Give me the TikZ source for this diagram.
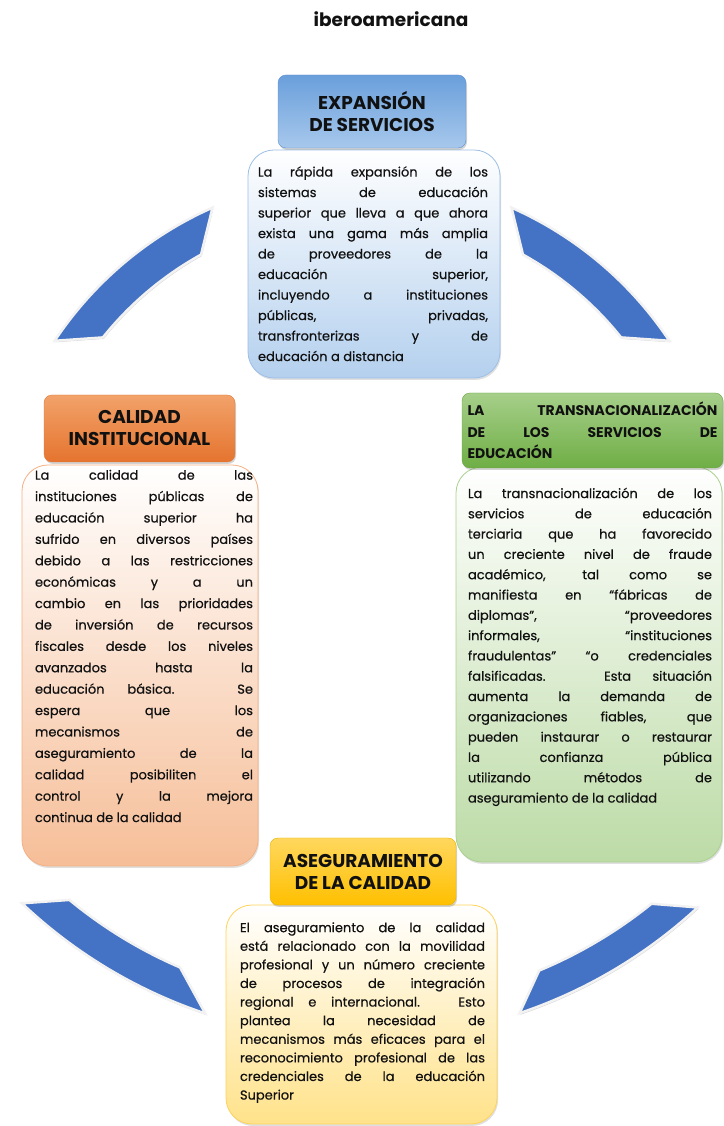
\documentclass[tikz,border=0pt]{standalone}
\usepackage{fontspec}
\setmainfont{Poppins}
\newfontfamily\bodyfont{Poppins}[FakeBold=0.5]
\usetikzlibrary{shadows}
\definecolor{arcblue}{HTML}{4472C4}
\definecolor{bluetop}{HTML}{6A9FDB}
\definecolor{bluebot}{HTML}{A7C8EC}
\definecolor{blueedge}{HTML}{5B8FCF}
\definecolor{bluelight}{HTML}{B4D0EE}
\definecolor{blueline}{HTML}{9DBFE6}
\definecolor{orangetop}{HTML}{F2A26A}
\definecolor{orangebot}{HTML}{E5742F}
\definecolor{orangeedge}{HTML}{E07A3A}
\definecolor{orangelight}{HTML}{F6BE98}
\definecolor{orangeline}{HTML}{F4B183}
\definecolor{greentop}{HTML}{A6CF8A}
\definecolor{greenbot}{HTML}{6FAE45}
\definecolor{greenedge}{HTML}{6AA443}
\definecolor{greenlight}{HTML}{BCDBA6}
\definecolor{greenline}{HTML}{A9D18E}
\definecolor{goldtop}{HTML}{FFD75E}
\definecolor{goldbot}{HTML}{FFC000}
\definecolor{goldedge}{HTML}{E8B000}
\definecolor{goldlight}{HTML}{FFE28A}
\definecolor{goldline}{HTML}{FFD35B}
\definecolor{ink}{HTML}{111111}

\begin{document}
\begin{tikzpicture}[x=1pt, y=1pt,
  hdr/.style={rounded corners=8pt, inner sep=0pt, text=ink, align=center,
    font=\fontsize{18.5}{22}\selectfont\bfseries,
    drop shadow={opacity=0.35, shadow xshift=1pt, shadow yshift=-2pt}},
  body/.style={rounded corners=26pt, inner sep=0pt, line width=0.8pt,
    drop shadow={opacity=0.25, shadow xshift=1pt, shadow yshift=-2pt}},
  txt/.style={anchor=north, align=justify, inner sep=0pt, text=ink},
  band/.style={fill=arcblue, draw=gray!10, line width=2.5pt,
    drop shadow={opacity=0.35, shadow xshift=0.8pt, shadow yshift=-1.5pt}}
]
  \useasboundingbox (0,0) rectangle (723,1126);

  \node[font=\fontsize{18.5}{20}\selectfont\bfseries, text=ink] (title) at (391,1107) {iberoamericana};

  % cycle arcs
  \begin{scope}[shift={(362,581)}]
    \path[band] (113.9:369) arc[start angle=113.9, end angle=146.4, radius=369]
      -- (141.3:332) arc[start angle=141.3, end angle=119, radius=332] -- cycle;
    \path[band] (66.1:369) arc[start angle=66.1, end angle=33.6, radius=369]
      -- (38.7:332) arc[start angle=38.7, end angle=61, radius=332] -- cycle;
    \path[band] (226.5:494) arc[start angle=226.5, end angle=251.5, radius=494]
      -- (246.7:460) arc[start angle=246.7, end angle=230.5, radius=460] -- cycle;
    \path[band] (312.8:494) arc[start angle=312.8, end angle=288.6, radius=494]
      -- (292.6:461) arc[start angle=292.6, end angle=308.9, radius=461] -- cycle;
  \end{scope}

  % bodies
  \node[body, top color=white, bottom color=bluelight, draw=blueline,
    minimum width=252pt, minimum height=228pt] (expbody) at (374,862) {};
  \node[body, top color=white, bottom color=orangelight, draw=orangeline,
    minimum width=236pt, minimum height=401pt] (calbody) at (140,460.5) {};
  \node[body, top color=white, bottom color=greenlight, draw=greenline,
    minimum width=266pt, minimum height=395pt] (trabody) at (589,461.5) {};
  \node[body, top color=white, bottom color=goldlight, draw=goldline,
    minimum width=271pt, minimum height=219pt] (asebody) at (361.5,111.5) {};

  \node[txt, text width=230pt, font=\bodyfont\fontsize{13}{20.5}\selectfont] (exptext)
    at ([xshift=-1pt, yshift=-16.5pt]expbody.north)
    {La rápida expansión de los\linebreak sistemas de educación\linebreak
     superior que lleva a que ahora\linebreak exista una gama más amplia\linebreak
     de proveedores de la\linebreak educación superior,\linebreak
     incluyendo a instituciones\linebreak públicas, privadas,\linebreak
     transfronterizas y de\linebreak educación a distancia};
  \node[txt, text width=218pt, font=\bodyfont\fontsize{13}{21.4}\selectfont] (caltext)
    at ([xshift=4pt, yshift=-5pt]calbody.north)
    {La calidad de las\linebreak instituciones públicas de\linebreak
     educación superior ha\linebreak sufrido en diversos países\linebreak
     debido a las restricciones\linebreak económicas y a un\linebreak
     cambio en las prioridades\linebreak de inversión de recursos\linebreak
     fiscales desde los niveles\linebreak avanzados hasta la\linebreak
     educación básica. Se\linebreak espera que los\linebreak
     mecanismos de\linebreak aseguramiento de la\linebreak
     calidad posibiliten el\linebreak control y la mejora\linebreak
     continua de la calidad};
  \node[txt, text width=244pt, font=\bodyfont\fontsize{13}{20.3}\selectfont] (tratext)
    at ([xshift=1pt, yshift=-21pt]trabody.north)
    {La transnacionalización de los\linebreak servicios de educación\linebreak
     terciaria que ha favorecido\linebreak un creciente nivel de fraude\linebreak
     académico, tal como se\linebreak manifiesta en “fábricas de\linebreak
     diplomas”, “proveedores\linebreak informales, “instituciones\linebreak
     fraudulentas” “o credenciales\linebreak falsificadas. Esta situación\linebreak
     aumenta la demanda de\linebreak organizaciones fiables, que\linebreak
     pueden instaurar o restaurar\linebreak la confianza pública\linebreak
     utilizando métodos de\linebreak aseguramiento de la calidad};
  \node[txt, text width=245pt, font=\bodyfont\fontsize{13}{18.6}\selectfont] (asetext)
    at ([xshift=1pt, yshift=-17.5pt]asebody.north)
    {El aseguramiento de la calidad\linebreak está relacionado con la movilidad\linebreak
     profesional y un número creciente\linebreak de procesos de integración\linebreak
     regional e internacional. Esto\linebreak plantea la necesidad de\linebreak
     mecanismos más eficaces para el\linebreak reconocimiento profesional de las\linebreak
     credenciales de la educación\linebreak Superior};

  % headers
  \node[hdr, top color=bluetop, bottom color=bluebot, draw=blueedge,
    minimum width=188pt, minimum height=73pt] (exphead) at (372,1014.5)
    {EXPANSIÓN\\DE SERVICIOS};
  \node[hdr, top color=orangetop, bottom color=orangebot, draw=orangeedge,
    minimum width=191pt, minimum height=67pt] (calhead) at (139.5,697.5)
    {CALIDAD\\INSTITUCIONAL};
  \node[hdr, top color=greentop, bottom color=greenbot, draw=greenedge,
    minimum width=261pt, minimum height=75pt, text width=250pt, align=justify,
    font=\fontsize{14}{21.5}\selectfont\bfseries] (trahead) at (592.5,695.5)
    {LA TRANSNACIONALIZACIÓN\linebreak DE LOS SERVICIOS DE\linebreak EDUCACIÓN};
  \node[hdr, top color=goldtop, bottom color=goldbot, draw=goldedge,
    minimum width=186pt, minimum height=67pt] (asehead) at (363,254.5)
    {ASEGURAMIENTO\\DE LA CALIDAD};
\end{tikzpicture}
\end{document}
